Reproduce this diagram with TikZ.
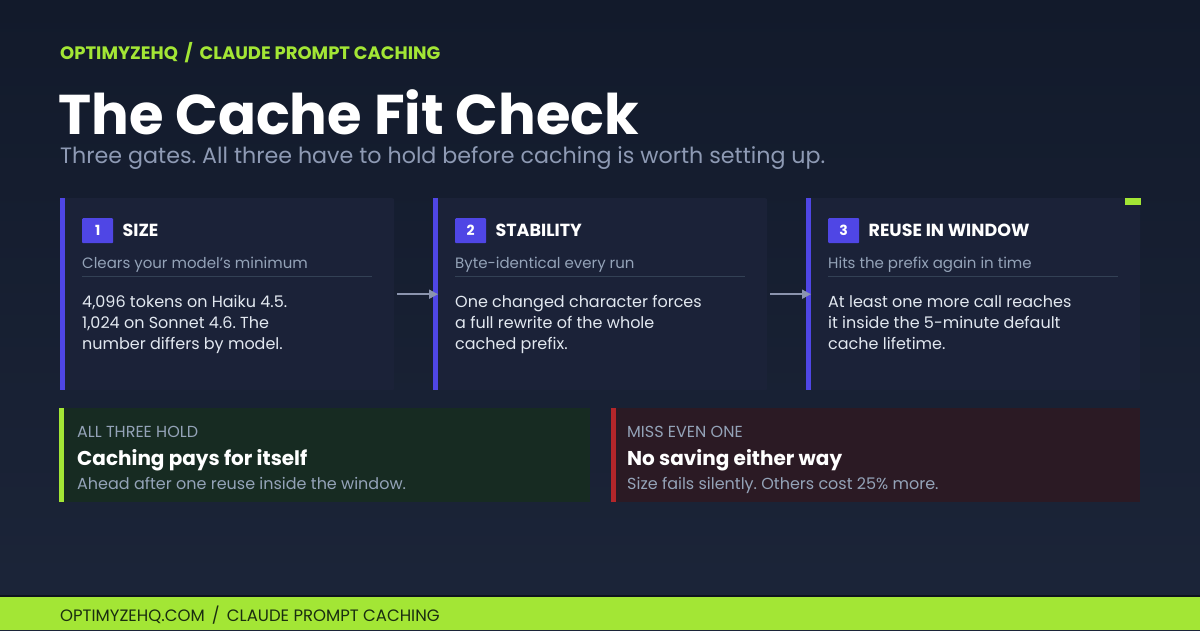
\documentclass[tikz,border=0pt]{standalone}
\usepackage{fontspec}
\setmainfont{Poppins}
\usetikzlibrary{positioning,arrows.meta}
\frenchspacing

\definecolor{bgtop}{HTML}{121A2B}
\definecolor{bgbot}{HTML}{1C2539}
\definecolor{cardbg}{HTML}{1B2238}
\definecolor{accent}{HTML}{4F46E5}
\definecolor{lime}{HTML}{A3E635}
\definecolor{mutedtxt}{HTML}{94A3B8}
\definecolor{subtxt}{HTML}{8E9AB4}
\definecolor{bodytxt}{HTML}{E2E8F0}
\definecolor{divcol}{HTML}{334155}
\definecolor{flowcol}{HTML}{8B94AE}
\definecolor{okbg}{HTML}{172B22}
\definecolor{missbg}{HTML}{2B1A24}
\definecolor{missbar}{HTML}{B3262A}
\definecolor{foottxt}{HTML}{1A2E10}

\tikzset{
  card/.style={fill=cardbg, rounded corners=2pt, anchor=north west, inner sep=0pt,
    minimum width=334pt, minimum height=192pt},
  badge/.style={fill=accent, rounded corners=1pt, anchor=north west, inner sep=0pt,
    minimum width=31pt, minimum height=25pt, text=white, font=\bfseries\fontsize{14}{16}\selectfont},
  gatehead/.style={text=white, inner sep=0pt, font=\bfseries\fontsize{17.5}{20}\selectfont},
  gatesub/.style={text=mutedtxt, inner sep=0pt, anchor=base west, font=\fontsize{15}{18}\selectfont},
  gatebody/.style={text=bodytxt, inner sep=0pt, anchor=base west, font=\fontsize{16}{21}\selectfont},
  flow/.style={draw=flowcol, line width=1.8pt, -{Triangle[length=9pt,width=9pt]},
    shorten <=3pt, shorten >=-5pt},
  verdict/.style={anchor=north west, inner sep=0pt, minimum height=94pt},
  tagtxt/.style={text=mutedtxt, inner sep=0pt, anchor=base west, font=\fontsize{16}{18}\selectfont},
  outcome/.style={text=white, inner sep=0pt, anchor=base west, font=\bfseries\fontsize{20}{22}\selectfont},
}

\begin{document}
\begin{tikzpicture}[x=1pt, y=-1pt]
\shade[top color=bgtop, bottom color=bgbot] (0,0) rectangle (1200,630);
\useasboundingbox (0,0) rectangle (1200,630);

% header
\node[anchor=base west, inner sep=0pt, text=lime, font=\bfseries\fontsize{18}{20}\selectfont]
  (kicker) at (60,59) {OPTIMYZEHQ \,/\, CLAUDE PROMPT CACHING};
\node[anchor=base west, inner sep=0pt, text=white, font=\bfseries\fontsize{56}{60}\selectfont]
  (title) at (58,134) {The Cache Fit Check};
\node[anchor=base west, inner sep=0pt, text=subtxt, font=\fontsize{22.2}{24}\selectfont]
  (subtitle) at (60,163) {Three gates. All three have to hold before caching is worth setting up.};

% gates
\foreach \i/\x/\head/\sub/\la/\lb/\lc in {
  1/60/SIZE/{Clears your model's minimum}/{4,096 tokens on Haiku 4.5.}/{1,024 on Sonnet 4.6. The}/{number differs by model.},
  2/433/STABILITY/{Byte-identical every run}/{One changed character forces}/{a full rewrite of the whole}/{cached prefix.},
  3/806/REUSE IN WINDOW/{Hits the prefix again in time}/{At least one more call reaches}/{it inside the 5-minute default}/{cache lifetime.}}
{
  \node[card] (card\i) at (\x,198) {};
  \fill[accent] (card\i.north west) rectangle ++(5,192);
  \node[badge] (num\i) at (\x+22,218) {\i};
  \node[gatehead, right=9pt of num\i] (head\i) {\head};
  \node[gatesub] (sub\i) at (\x+22,268) {\sub};
  \draw[divcol, line width=0.8pt] (\x+22,276) -- (\x+312,276);
  \node[gatebody] (body\i a) at (\x+22,307) {\la};
  \node[gatebody] (body\i b) at (\x+22,328) {\lb};
  \node[gatebody] (body\i c) at (\x+22,349) {\lc};
}
\fill[lime] (1125,198) rectangle (1141,205);

\draw[flow] (card1) -- (card2);
\draw[flow] (card2) -- (card3);

% verdicts
\node[verdict, fill=okbg, minimum width=531pt] (pass) at (59,408) {};
\fill[lime] (pass.north west) rectangle ++(5,94);
\node[tagtxt] (passtag) at (77,437) {ALL THREE HOLD};
\node[outcome] (passhead) at (77,465) {Caching pays for itself};
\node[tagtxt] (passnote) at (77,489) {Ahead after one reuse inside the window.};

\node[verdict, fill=missbg, minimum width=529pt] (miss) at (611,408) {};
\fill[missbar] (miss.north west) rectangle ++(5,94);
\node[tagtxt] (misstag) at (627,437) {MISS EVEN ONE};
\node[outcome] (misshead) at (627,465) {No saving either way};
\node[tagtxt] (missnote) at (627,489) {Size fails silently. Others cost 25\% more.};

% footer
\fill[black!50!bgbot] (0,595) rectangle (1200,597);
\fill[lime] (0,597) rectangle (1200,630);
\node[anchor=base west, inner sep=0pt, text=foottxt, font=\fontsize{16.5}{18}\selectfont]
  (footer) at (60,621) {OPTIMYZEHQ.COM \,/\, CLAUDE PROMPT CACHING};
\end{tikzpicture}
\end{document}
